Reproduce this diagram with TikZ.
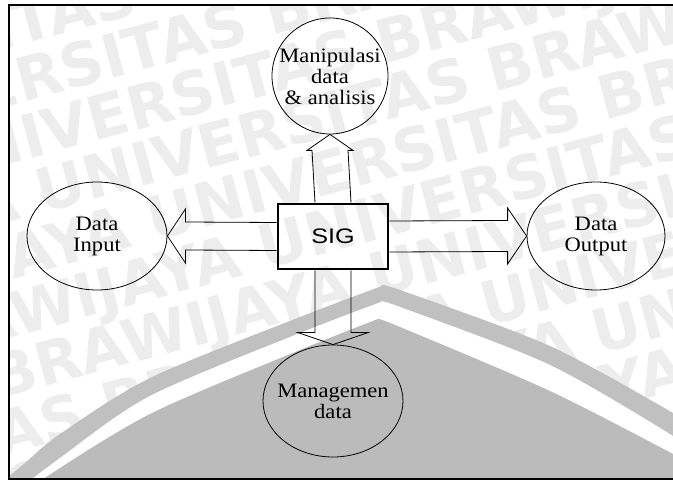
\documentclass[tikz,border=0pt]{standalone}
\usepackage{fontspec}
\setmainfont[FakeStretch=1.1]{Liberation Serif}
\newfontfamily\sigfont[FakeStretch=1.2]{Liberation Sans}
\newfontfamily\markfont{DejaVu Sans}
\usetikzlibrary{shapes.geometric,calc}

\definecolor{archgray}{HTML}{BBBBBB}
\definecolor{bandgray}{HTML}{C0C0C0}
\definecolor{markgray}{HTML}{EDEDED}

\newcommand{\markrow}{UNIVERSITAS BRAWIJAYA UNIVERSITAS BRAWIJAYA UNIVERSITAS BRAWIJAYA}

\begin{document}
\begin{tikzpicture}[x=1pt,y=-1pt,
  bubble/.style={draw,ellipse,line width=0.8pt,inner sep=0pt},
  bubbletext/.style={align=center,inner sep=0pt,font=\fontsize{20.5}{21}\selectfont},
  sysbox/.style={draw,line width=2.8pt,minimum width=110pt,minimum height=65pt,
    inner sep=0pt,font=\sigfont\fontsize{21}{21}\selectfont},
  blockarrow/.style={draw,line width=0.8pt,line join=miter},
  markstyle/.style={anchor=west,inner sep=0pt,transform shape,text=markgray,
    font=\markfont\bfseries\fontsize{60}{60}\selectfont}]

\useasboundingbox (0,0) rectangle (673,481);

\begin{scope}
  \clip (9,5) rectangle (673,479);
  % background lettering
  \begin{scope}[rotate around={15:(336,240)}]
    \foreach \k in {-5,...,6}
      \node[markstyle] (row\k) at (-700+\k*100, 178+\k*56) {\markrow};
  \end{scope}
  % arch: outer band, white gap, inner field
  \fill[bandgray]
    plot[smooth] coordinates {(0,484) (25,463) (60,434) (150,378) (300,317) (382,286)}
    -- plot[smooth] coordinates {(382,286) (400,290) (550,346) (673,413)}
    -- (673,481) -- (0,481) -- cycle;
  \fill[white]
    plot[smooth] coordinates {(5,500) (60,458) (150,396) (300,333) (381,302)}
    -- plot[smooth] coordinates {(381,302) (400,307) (550,365) (673,436)}
    -- (673,481) -- (0,481) -- cycle;
  \fill[archgray]
    plot[smooth] coordinates {(25,495) (40,481) (150,414) (300,350) (378,319)}
    -- plot[smooth] coordinates {(378,319) (400,327) (550,391) (673,454)}
    -- (673,481) -- (0,481) -- cycle;
\end{scope}

% outer frame
\draw[line width=1.6pt] (690,5) -- (9,5) -- (9,479) -- (690,479);

% nodes
\node[bubble,minimum width=116pt,minimum height=116pt,
  label={[bubbletext]center:Manipulasi\\data\\\& analisis}] (manip) at (330,76) {};
\node[bubble,minimum width=140pt,minimum height=108pt,
  label={[bubbletext]center:Data\\Input}] (din) at (97,236) {};
\node[bubble,minimum width=138pt,minimum height=108pt,
  label={[bubbletext]center:Data\\Output}] (dout) at (596,236) {};
\node[bubble,minimum width=140pt,minimum height=112pt,
  label={[bubbletext]center:Managemen\\data}] (mgmt) at (333,401) {};
\node[sysbox] (sig) at (333,236.5) {SIG};

% hollow block arrows
\draw[blockarrow] ($(sig.north)+(-18,0)$) -- ($(manip.south)+(-18,16)$)
  -- ($(manip.south)+(-23,16)$) -- (manip.south) -- ($(manip.south)+(23,16)$)
  -- ($(manip.south)+(18,16)$) -- ($(sig.north)+(18,0)$);
\draw[blockarrow] ($(sig.west)+(0,-14)$) -- ($(din.east)+(18,-14)$)
  -- ($(din.east)+(18,-27)$) -- (din.east) -- ($(din.east)+(18,27)$)
  -- ($(din.east)+(18,14)$) -- ($(sig.west)+(0,14)$);
\draw[blockarrow] ($(sig.east)+(0,-15.5)$) -- ($(dout.west)+(-19,-15.5)$)
  -- ($(dout.west)+(-19,-28)$) -- (dout.west) -- ($(dout.west)+(-19,28)$)
  -- ($(dout.west)+(-19,15.5)$) -- ($(sig.east)+(0,15.5)$);
\draw[blockarrow] ($(sig.south)+(-18,0)$) -- ($(mgmt.north)+(-18,-12)$)
  -- ($(mgmt.north)+(-35,-12)$) -- (mgmt.north) -- ($(mgmt.north)+(35,-12)$)
  -- ($(mgmt.north)+(18,-12)$) -- ($(sig.south)+(18,0)$);
\end{tikzpicture}
\end{document}
